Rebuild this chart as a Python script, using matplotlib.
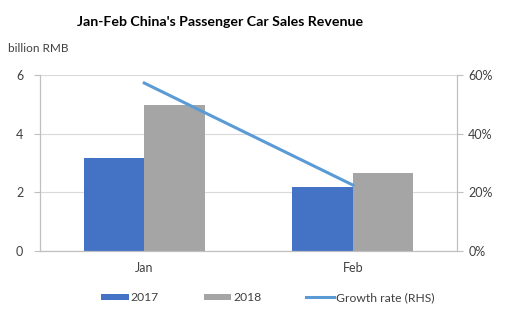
import numpy as np
import matplotlib.pyplot as plt
from matplotlib.ticker import PercentFormatter

months = ['Jan', 'Feb']
sales_2017 = [3.17, 2.18]
sales_2018 = [4.98, 2.66]
growth = [57.3, 22.5]

plt.rcParams["font.family"] = ["Lato", "DejaVu Sans"]

x = np.arange(len(months))
w = 0.29

fig = plt.figure(figsize=(5.09, 3.28), dpi=100)
ax = fig.add_axes([0.0786, 0.2348, 0.8194, 0.5362])

b1 = ax.bar(x - w / 2, sales_2017, width=w, color='#4472C4', label='2017', zorder=2)
b2 = ax.bar(x + w / 2, sales_2018, width=w, color='#A5A5A5', label='2018', zorder=2)
ax.set_xlim(-0.5, 1.5)
ax.set_ylim(0, 6)
ax.set_yticks([0, 2, 4, 6])
ax.set_xticks(x)
ax.set_xticklabels(months)
ax.grid(axis='y', color='#D9D9D9', linewidth=0.8, zorder=0)
ax.set_axisbelow(True)

ax2 = ax.twinx()
l1, = ax2.plot(x, growth, color='#5B9BD5', linewidth=2.2, label='Growth rate (RHS)')
ax2.set_ylim(0, 60)
ax2.set_yticks([0, 20, 40, 60])
ax2.yaxis.set_major_formatter(PercentFormatter(decimals=0))

for a in (ax, ax2):
    a.spines['top'].set_visible(False)
    for s in ('left', 'right', 'bottom'):
        a.spines[s].set_color('#BFBFBF')
        a.spines[s].set_linewidth(0.8)
    a.tick_params(axis='y', colors='#BFBFBF', labelcolor='#404040', labelsize=9, length=4)
ax.tick_params(axis='x', length=0, labelcolor='#404040', labelsize=9, pad=8)
ax.tick_params(axis='y', pad=8)
ax2.tick_params(axis='y', pad=4)

fig.text(0.433, 0.932, "Jan-Feb China's Passenger Car Sales Revenue",
         ha='center', va='center', fontsize=10.2, fontweight='bold', color='#000000')
fig.text(0.016, 0.853, 'billion RMB', ha='left', va='center', fontsize=8.5, color='#404040')

fig.legend(handles=[b1, b2, l1], loc='center', bbox_to_anchor=(0.526, 0.092), ncol=3,
           frameon=False, fontsize=8.7, handlelength=2.3, handleheight=0.5,
           handletextpad=0.15, columnspacing=3.7, labelcolor='#404040')

fig.savefig('out.png', dpi=100)
